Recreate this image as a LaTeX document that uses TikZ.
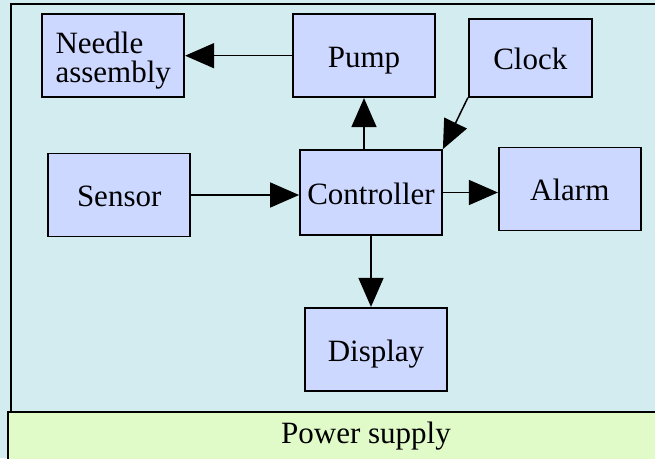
\documentclass[tikz,border=0pt]{standalone}
\usepackage{fontspec}
\setmainfont{Liberation Serif}
\usetikzlibrary{arrows.meta,positioning}
\definecolor{BgCyan}{HTML}{D3ECEF}
\definecolor{BoxBlue}{HTML}{CCD8FF}
\definecolor{PaleGreen}{HTML}{E0FAC8}
\tikzset{
  block/.style={draw=black,fill=BoxBlue,line width=1.8pt,minimum width=142pt,minimum height=83pt,text height=24pt,text depth=0pt,align=center,font=\fontsize{31}{29}\selectfont},
  supply/.style={draw=black,fill=PaleGreen,line width=1.8pt,minimum width=716pt,minimum height=48pt,font=\fontsize{31}{29}\selectfont},
  flow/.style={-{Triangle[length=29pt,width=25pt]},draw=black,line width=1.5pt},
}
\begin{document}
\begin{tikzpicture}[x=1pt,y=1pt]
        \clip (0,0) rectangle (655,458);
        \fill[BgCyan] (0,0) rectangle (655,458);
        \draw[line width=1.8pt] (11,46) -- (11,454) -- (660,454);
        \node[block,minimum height=85pt] (ctrl) at (371,265.5) {Controller};
        \node[block,left=108pt of ctrl,yshift=-2.5pt] (sensor) {Sensor};
        \node[block,right=55pt of ctrl,yshift=3.5pt] (alarm) {Alarm};
        \node[block,above=51pt of ctrl,xshift=-7pt] (pump) {Pump};
        \node[block,below=71pt of ctrl,xshift=5pt] (disp) {Display};
        \node[block,left=107pt of pump,align=left,text height=53pt] (needle) {Needle\\assembly};
        \node[block,right=32pt of pump,yshift=-2pt,minimum width=123pt,minimum height=78pt] (clock) {Clock};
        \node[supply] (power) at (366,22) {Power supply};
        \draw[flow] (pump.west) -- (pump.west -| needle.east);
        \draw[flow] (ctrl.north -| pump.south) -- (pump.south);
        \draw[flow] (clock.south west) -- (ctrl.north east);
        \draw[flow] (sensor.east) -- (sensor.east -| ctrl.west);
        \draw[flow] (ctrl.east) -- (ctrl.east -| alarm.west);
        \draw[flow] (ctrl.south) -- (ctrl.south |- disp.north);
      \end{tikzpicture}
\end{document}
